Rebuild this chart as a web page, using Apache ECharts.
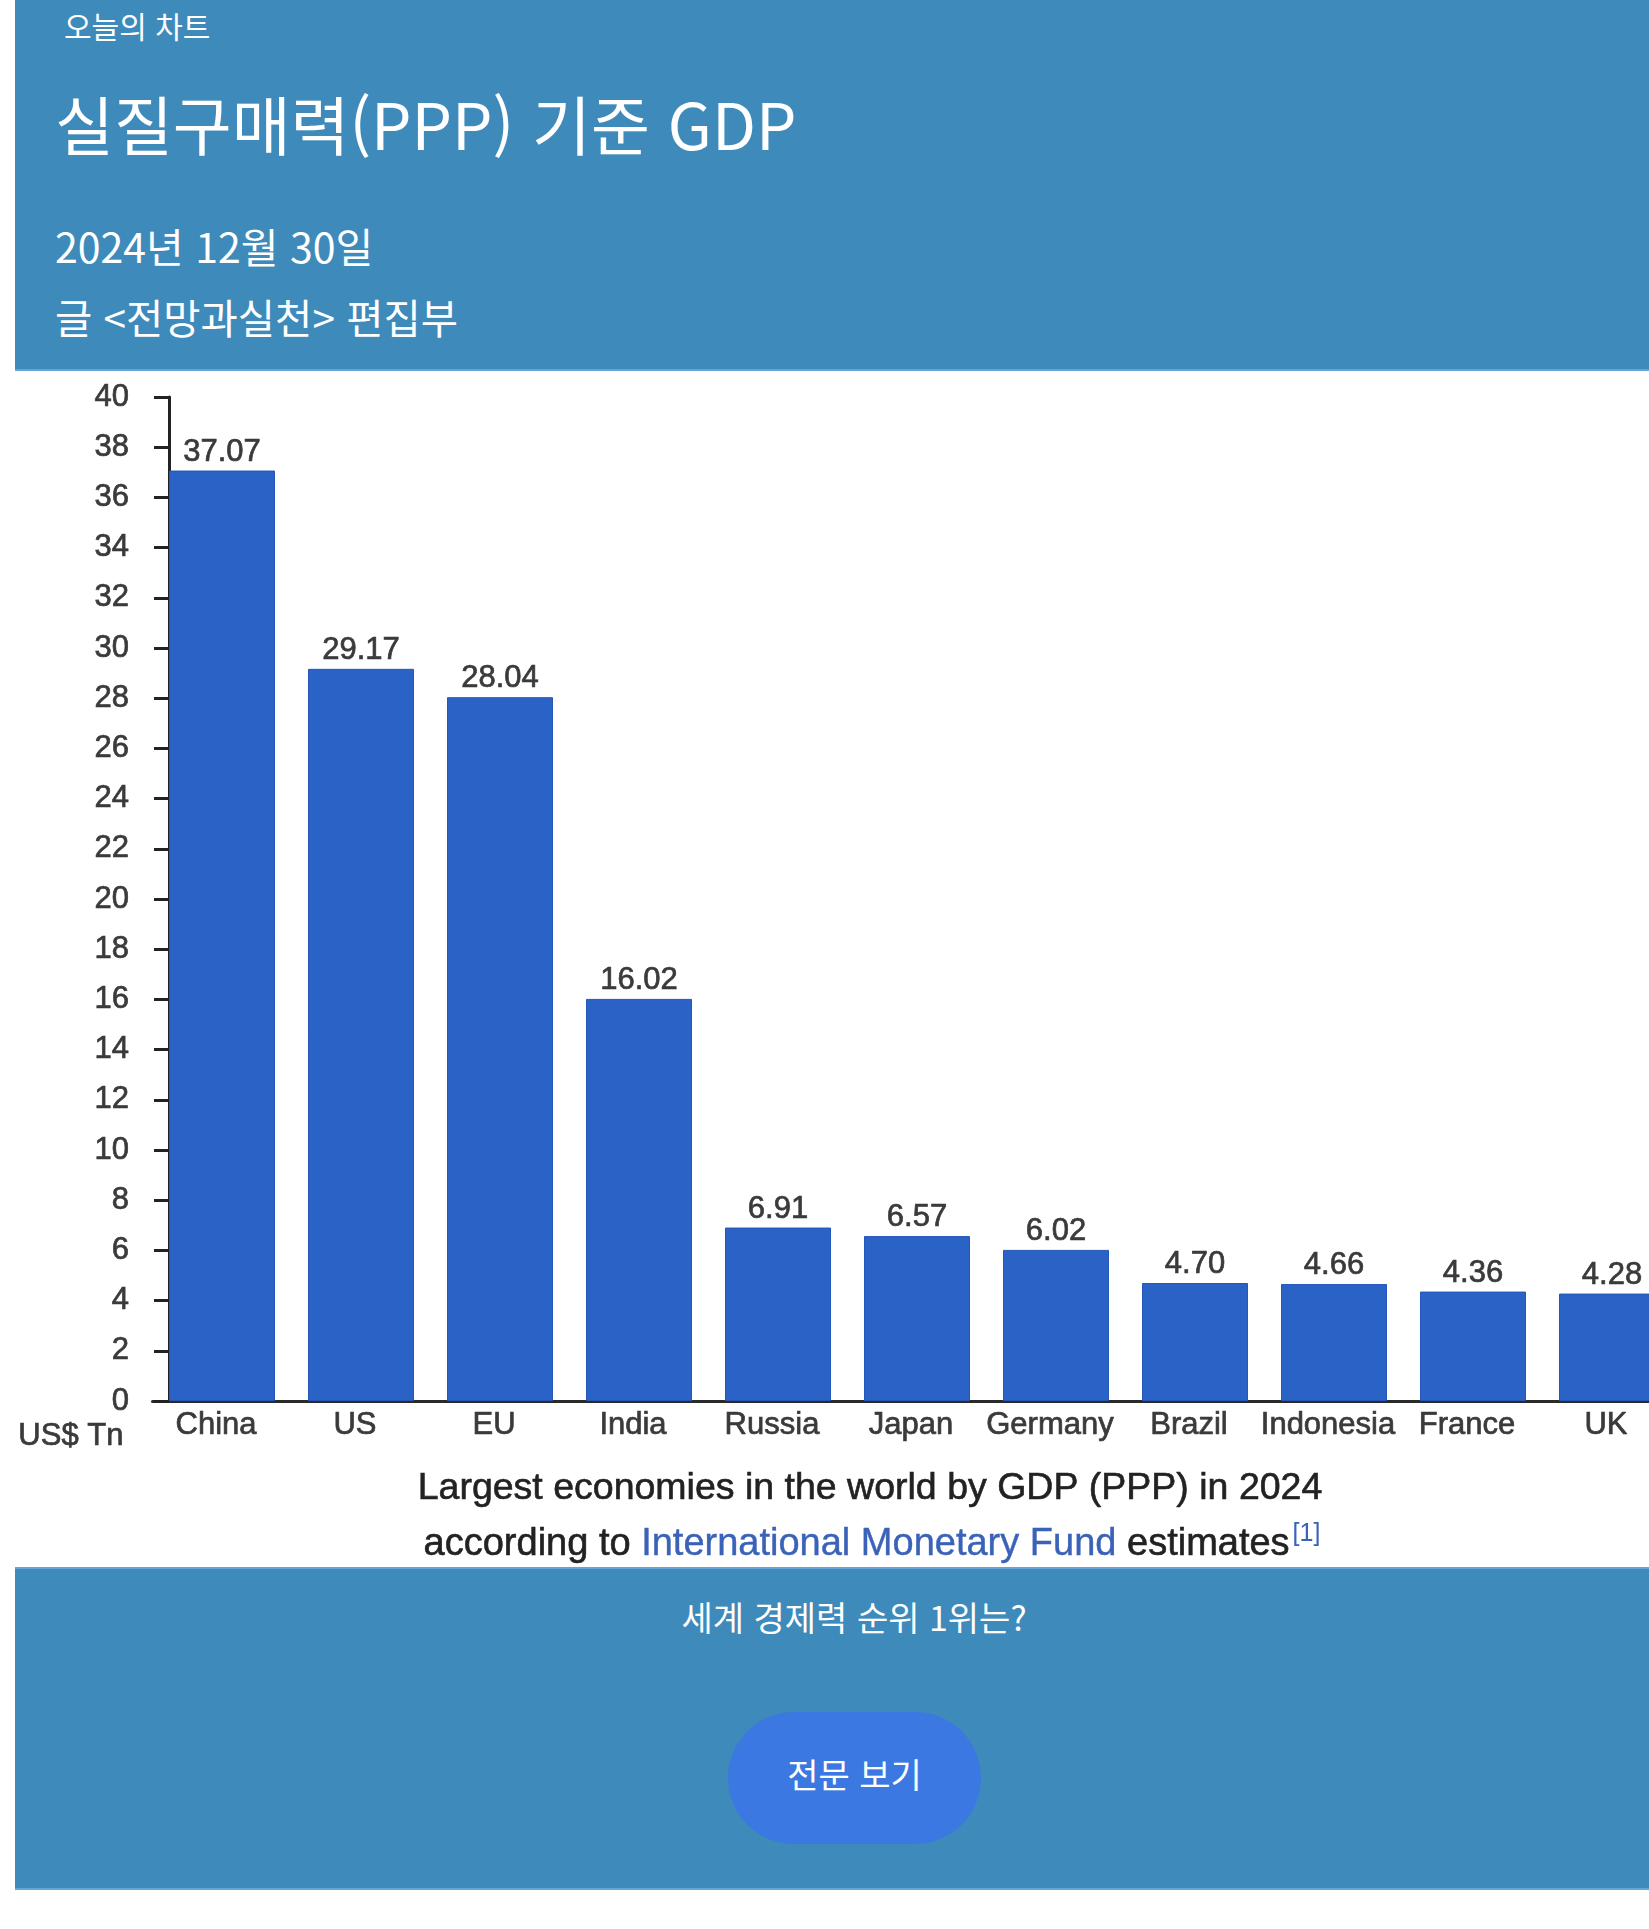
<!DOCTYPE html>
<html lang="ko">
<head>
<meta charset="utf-8">
<title>실질구매력(PPP) 기준 GDP</title>
<script src="https://cdn.jsdelivr.net/npm/echarts@6/dist/echarts.min.js"></script>
<style>
  html, body { margin: 0; padding: 0; background: #ffffff; }
  body { width: 1649px; height: 1929px; position: relative; overflow: hidden;
         font-family: "Noto Sans CJK KR", "Noto Sans", sans-serif; }
  .panel { position: absolute; left: 15px; width: 1634px; background: #3e8bbb; }
  #header { top: 0; height: 369px; border-bottom: 2px solid #63a5d4; }
  #footer { top: 1567px; height: 319px; border-top: 2px solid #63a5d4; border-bottom: 2px solid #63a5d4; }
  .t { position: absolute; color: #ffffff; white-space: nowrap; font-weight: 400; }
  #kicker { left: 49px; top: 6px; font-size: 30px; line-height: 38px; }
  #title { left: 40px; top: 84px; font-size: 64px; line-height: 76px; }
  #date { left: 40px; top: 219px; font-size: 41px; line-height: 52px; }
  #author { left: 40px; top: 291px; font-size: 40.5px; line-height: 52px; }
  #question { left: 0; width: 1678px; text-align: center; top: 27px; font-size: 34px; line-height: 42px; }
  #btn { position: absolute; left: 713px; top: 143px; width: 253px; height: 132px; border-radius: 66px;
         background: #3b78e1; color: #fff; font-size: 34px; line-height: 124px; text-align: center; font-weight: 400; }
  #chart { position: absolute; left: 0; top: 371px; width: 1720px; height: 1196px; }
</style>
</head>
<body>
<div id="header" class="panel">
  <div id="kicker" class="t">오늘의 차트</div>
  <div id="title" class="t">실질구매력(PPP) 기준 GDP</div>
  <div id="date" class="t">2024년 12월 30일</div>
  <div id="author" class="t">글 &lt;전망과실천&gt; 편집부</div>
</div>
<div id="chart"></div>
<div id="footer" class="panel">
  <div id="question" class="t">세계 경제력 순위 1위는?</div>
  <div id="btn">전문 보기</div>
</div>
<script>
// ---- data ----
const categories = ['China', 'US', 'EU', 'India', 'Russia', 'Japan', 'Germany', 'Brazil', 'Indonesia', 'France', 'UK'];
const gdpPPP = [37.07, 29.17, 28.04, 16.02, 6.91, 6.57, 6.02, 4.70, 4.66, 4.36, 4.28];
const yMin = 0;
const yMax = 40;
const yStep = 2;
const unitLabel = 'US$ Tn';
const captionLine1 = 'Largest economies in the world by GDP (PPP) in 2024';
const captionLine2 = ['according to ', 'International Monetary Fund', ' estimates', '[1]'];

const chart = echarts.init(document.getElementById('chart'), null, { renderer: 'canvas' });
const txtFont = '"Liberation Sans", Arial, Helvetica, sans-serif';
const textColor = '#3a3a3a';
const heavy = { textBorderColor: '#3a3a3a', textBorderWidth: 0.7 };

chart.setOption({
  animation: false,
  backgroundColor: '#ffffff',
  grid: { left: 152.5, top: 26, width: 1529, height: 1004, containLabel: false },
  xAxis: {
    type: 'category',
    data: categories,
    axisLine: { show: true, lineStyle: { color: '#2a2a2a', width: 3 } },
    axisTick: { show: false },
    axisLabel: Object.assign({ interval: 0, color: textColor, fontFamily: txtFont, fontSize: 31, margin: 9, padding: [0, 12, 0, 0] }, heavy),
    splitLine: { show: false }
  },
  yAxis: {
    type: 'value',
    min: yMin, max: yMax, interval: yStep,
    offset: -16.5,
    axisLine: { show: true, lineStyle: { color: '#222222', width: 3 } },
    axisTick: { show: true, length: 15, lineStyle: { color: '#222222', width: 3 } },
    axisLabel: Object.assign({ color: textColor, fontFamily: txtFont, fontSize: 31, margin: 40 }, heavy),
    splitLine: { show: false }
  },
  series: [{
    type: 'bar',
    data: gdpPPP,
    barWidth: 106,
    itemStyle: { color: '#2a62c5', borderColor: '#2457b8', borderWidth: 1 },
    label: Object.assign({
      show: true, position: 'top', distance: 3,
      color: textColor, fontFamily: txtFont, fontSize: 31,
      formatter: p => p.value.toFixed(2)
    }, heavy)
  }],
  graphic: [
    { type: 'text', left: 18, top: 1050,
      style: { text: unitLabel, fill: textColor, stroke: '#3a3a3a', lineWidth: 0.7, font: '31px ' + txtFont } },
    { type: 'text', x: 870, y: 1118,
      style: { text: captionLine1, fill: '#222222', stroke: '#222222', lineWidth: 0.6, font: '37.5px ' + txtFont, align: 'center', verticalAlign: 'middle' } },
    { type: 'text', x: 872, y: 1174,
      style: {
        text: '{a|' + captionLine2[0] + '}{b|' + captionLine2[1] + '}{a|' + captionLine2[2] + '}{s|' + captionLine2[3] + '}',
        align: 'center', verticalAlign: 'middle',
        rich: {
          a: { fill: '#222222', stroke: '#222222', lineWidth: 0.6, fontFamily: txtFont, fontSize: 38, lineHeight: 46 },
          b: { fill: '#3a62b8', stroke: '#3a62b8', lineWidth: 0.4, fontFamily: txtFont, fontSize: 38, lineHeight: 46 },
          s: { fill: '#3a62b8', fontFamily: txtFont, fontSize: 25, lineHeight: 46, verticalAlign: 'top', padding: [0, 0, 20, 3] }
        }
      } }
  ]
});
</script>
</body>
</html>
